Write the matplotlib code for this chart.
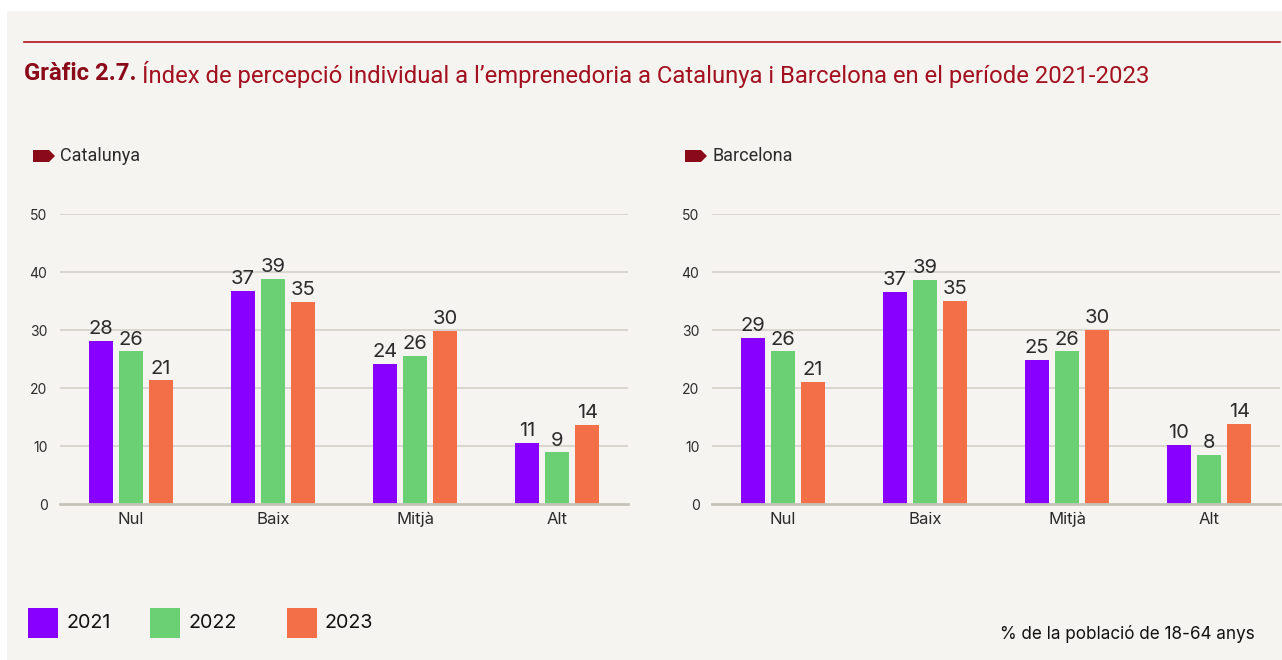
import matplotlib
matplotlib.use("Agg")
import matplotlib.pyplot as plt
import numpy as np
from matplotlib.patches import Polygon, Rectangle
from matplotlib.lines import Line2D

# Data (percentage of population 18-64)
categories = ["Nul", "Baix", "Mitjà", "Alt"]
years = ["2021", "2022", "2023"]
catalunya = {
    "2021": [28.1, 36.7, 24.2, 10.6],
    "2022": [26.3, 38.8, 25.6, 8.9],
    "2023": [21.3, 34.8, 29.9, 13.7],
}
barcelona = {
    "2021": [28.6, 36.6, 24.8, 10.2],
    "2022": [26.3, 38.7, 26.3, 8.5],
    "2023": [21.1, 35.0, 30.0, 13.8],
}
y_ticks = [0, 10, 20, 30, 40, 50]

colors = {"2021": "#8800ff", "2022": "#6bcf73", "2023": "#f36f47"}
bg = "#f6f4f0"
dark_red = "#8b0a1a"
text_col = "#2b2b2b"

W, H = 1282, 660
fig = plt.figure(figsize=(W / 100, H / 100), dpi=100)
fig.patch.set_facecolor("white")

# beige panel
fig.add_artist(Rectangle((7 / W, 0), 1 - 7 / W, 1 - 11 / H, transform=fig.transFigure,
                         facecolor=bg, edgecolor="none", zorder=-10))

# red top rule
fig.add_artist(Line2D([24 / W, 1280 / W], [1 - 42 / H, 1 - 42 / H], transform=fig.transFigure,
                      color="#b5121b", linewidth=1.2))

# title
t1 = fig.text(24 / W, 1 - 74 / H, "Gràfic 2.7. ", fontsize=17.2, fontweight="bold", color=dark_red,
              family="Roboto", va="center", ha="left")
fig.canvas.draw()
bb = t1.get_window_extent()
fig.text(bb.x1 / W, 1 - 74 / H,
         "Índex de percepció individual a l’emprenedoria a Catalunya i Barcelona en el període 2021-2023",
         fontsize=17.2, color="#a3101f", family="Roboto", va="center", ha="left")


def tag(x, y):
    # small dark red label tag shape
    pts = [(x, y - 6), (x + 16, y - 6), (x + 22, y), (x + 16, y + 6), (x, y + 6)]
    pts = [(px / W, 1 - py / H) for px, py in pts]
    fig.add_artist(Polygon(pts, closed=True, transform=fig.transFigure, facecolor=dark_red,
                           edgecolor="none"))


def draw_panel(left_px, data, name):
    ax = fig.add_axes([left_px / W, (H - 504) / H, 568 / W, 290 / H])
    ax.set_facecolor("none")
    x = np.arange(len(categories))
    width = 0.17
    offsets = [-0.212, 0.0, 0.212]
    for off, yr in zip(offsets, years):
        vals = data[yr]
        bars = ax.bar(x + off, vals, width, color=colors[yr], zorder=3)
        ax.bar_label(bars, labels=[f"{round(v):d}" for v in vals], padding=2,
                     fontsize=14.5, color=text_col, family="Inter")
    ax.set_xlim(-0.5, 3.5)
    ax.set_ylim(0, 50)
    ax.set_yticks(y_ticks)
    ax.set_yticklabels([str(v) for v in y_ticks], fontsize=10, color=text_col, family="Inter")
    ax.set_xticks(x)
    ax.set_xticklabels(categories, fontsize=12, color=text_col, family="Inter")
    ax.tick_params(axis="y", length=0, pad=9)
    ax.tick_params(axis="x", length=0, pad=6)
    for yt in y_ticks[1:]:
        ax.axhline(yt, color="#d3d0c9", linewidth=1.2, zorder=1)
    for s in ["top", "right", "left"]:
        ax.spines[s].set_visible(False)
    ax.spines["bottom"].set_color("#c6c3ba")
    ax.spines["bottom"].set_linewidth(2)
    ax.spines["bottom"].set_zorder(4)

    tag(left_px - 27, 156)
    fig.text((left_px) / W, 1 - 156 / H, name, fontsize=13, color=text_col, family="Roboto",
             va="center", ha="left")
    return ax


draw_panel(60, catalunya, "Catalunya")
draw_panel(712, barcelona, "Barcelona")

# legend at bottom
leg_x = [28, 150, 287]
for lx, yr in zip(leg_x, years):
    fig.add_artist(Rectangle((lx / W, 1 - 638 / H), 30 / W, 30 / H, transform=fig.transFigure,
                             facecolor=colors[yr], edgecolor="none"))
    fig.text((lx + 38) / W, 1 - 623 / H, yr, fontsize=14.2, color="#111111", family="Inter",
             va="center", ha="left")

fig.text(1255 / W, 1 - 634 / H, "% de la població de 18-64 anys", fontsize=12.3, color="#111111",
         family="Inter", va="center", ha="right")

fig.savefig("out.png", dpi=100)
